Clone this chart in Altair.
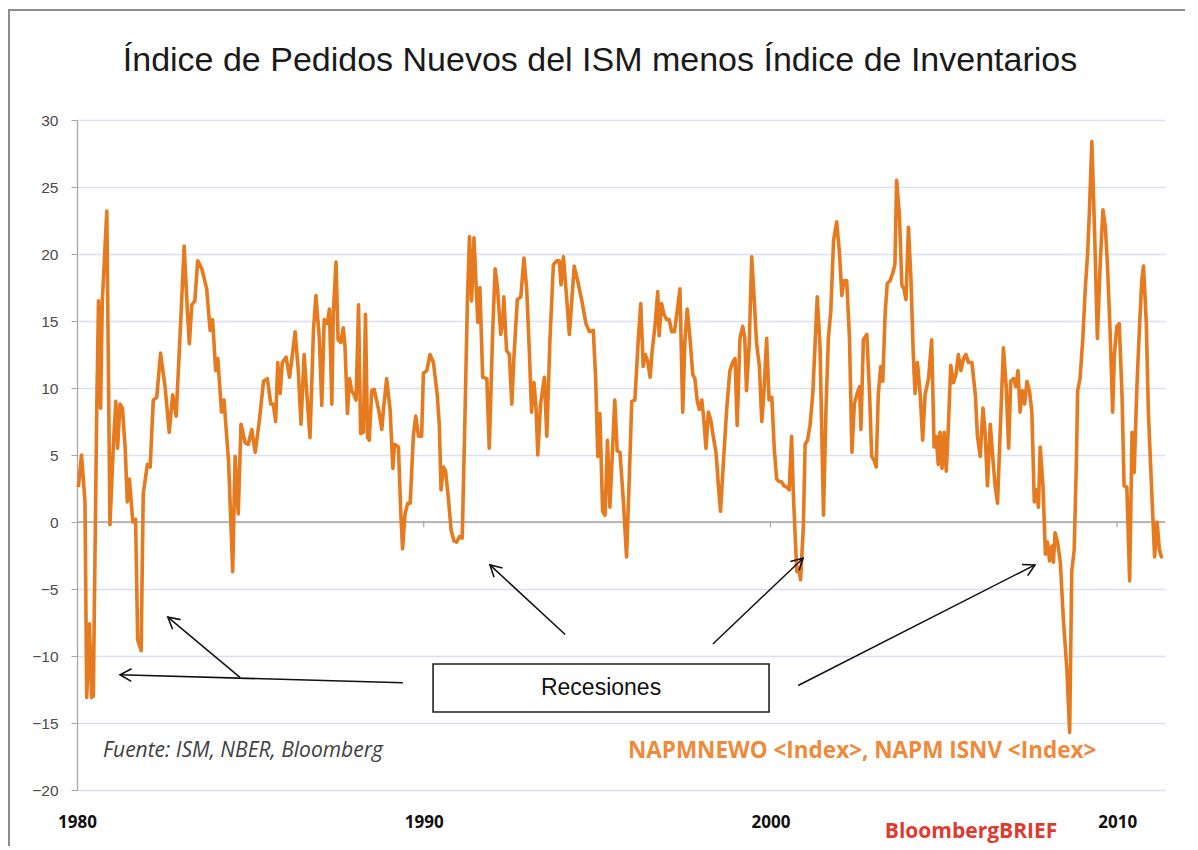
import math
import altair as alt
import pandas as pd

# ---------------- data ----------------
years = [
    1980.04, 1980.13, 1980.23, 1980.28, 1980.36, 1980.42, 1980.47, 1980.57, 1980.62, 1980.68,
    1980.73, 1980.86, 1980.95, 1981.05, 1981.12, 1981.17, 1981.24, 1981.31, 1981.39, 1981.45,
    1981.51, 1981.61, 1981.69, 1981.75, 1981.85, 1981.91, 1982.03, 1982.11, 1982.20, 1982.30,
    1982.41, 1982.54, 1982.66, 1982.76, 1982.86, 1982.99, 1983.09, 1983.18, 1983.24, 1983.31,
    1983.40, 1983.48, 1983.60, 1983.74, 1983.84, 1983.91, 1984.00, 1984.06, 1984.17, 1984.24,
    1984.37, 1984.49, 1984.56, 1984.65, 1984.73, 1984.85, 1984.94, 1985.04, 1985.14, 1985.26,
    1985.38, 1985.49, 1985.59, 1985.66, 1985.73, 1985.79, 1985.86, 1985.92, 1986.03, 1986.13,
    1986.19, 1986.29, 1986.38, 1986.46, 1986.55, 1986.63, 1986.72, 1986.82, 1986.89, 1986.99,
    1987.06, 1987.13, 1987.22, 1987.28, 1987.35, 1987.39, 1987.47, 1987.53, 1987.61, 1987.68,
    1987.73, 1987.80, 1987.86, 1987.92, 1987.99, 1988.05, 1988.12, 1988.18, 1988.26, 1988.32,
    1988.38, 1988.43, 1988.50, 1988.57, 1988.64, 1988.72, 1988.79, 1988.84, 1988.93, 1989.03,
    1989.11, 1989.16, 1989.27, 1989.34, 1989.39, 1989.46, 1989.54, 1989.61, 1989.70, 1989.77,
    1989.85, 1989.94, 1989.99, 1990.09, 1990.18, 1990.28, 1990.39, 1990.45, 1990.50, 1990.57,
    1990.63, 1990.71, 1990.79, 1990.87, 1990.95, 1991.03, 1991.11, 1991.19, 1991.26, 1991.32,
    1991.38, 1991.45, 1991.51, 1991.56, 1991.62, 1991.70, 1991.82, 1991.89, 1991.99, 1992.06,
    1992.13, 1992.22, 1992.28, 1992.31, 1992.39, 1992.47, 1992.54, 1992.60, 1992.70, 1992.80,
    1992.89, 1992.97, 1993.05, 1993.11, 1993.18, 1993.24, 1993.29, 1993.37, 1993.48, 1993.55,
    1993.64, 1993.74, 1993.84, 1993.91, 1993.96, 1994.03, 1994.12, 1994.20, 1994.27, 1994.34,
    1994.44, 1994.56, 1994.68, 1994.78, 1994.89, 1994.96, 1995.02, 1995.08, 1995.16, 1995.23,
    1995.30, 1995.37, 1995.51, 1995.58, 1995.66, 1995.76, 1995.85, 1995.93, 1996.00, 1996.09,
    1996.19, 1996.26, 1996.33, 1996.39, 1996.46, 1996.53, 1996.59, 1996.67, 1996.75, 1996.79,
    1996.86, 1996.93, 1997.01, 1997.08, 1997.15, 1997.23, 1997.30, 1997.39, 1997.47, 1997.53,
    1997.60, 1997.68, 1997.76, 1997.82, 1997.89, 1997.95, 1998.02, 1998.08, 1998.14, 1998.21,
    1998.28, 1998.35, 1998.43, 1998.50, 1998.56, 1998.64, 1998.74, 1998.83, 1998.91, 1998.98,
    1999.04, 1999.12, 1999.20, 1999.26, 1999.31, 1999.39, 1999.46, 1999.54, 1999.60, 1999.68,
    1999.75, 1999.81, 1999.89, 1999.96, 2000.04, 2000.11, 2000.18, 2000.26, 2000.32, 2000.39,
    2000.47, 2000.54, 2000.61, 2000.66, 2000.76, 2000.81, 2000.87, 2000.95, 2001.00, 2001.07,
    2001.14, 2001.22, 2001.29, 2001.35, 2001.43, 2001.53, 2001.60, 2001.67, 2001.74, 2001.82,
    2001.91, 2001.99, 2002.06, 2002.12, 2002.20, 2002.28, 2002.35, 2002.42, 2002.49, 2002.57,
    2002.61, 2002.68, 2002.78, 2002.86, 2002.92, 2002.99, 2003.05, 2003.11, 2003.18, 2003.24,
    2003.31, 2003.37, 2003.45, 2003.53, 2003.59, 2003.64, 2003.72, 2003.79, 2003.85, 2003.91,
    2003.98, 2004.05, 2004.12, 2004.17, 2004.24, 2004.32, 2004.39, 2004.46, 2004.56, 2004.65,
    2004.72, 2004.78, 2004.84, 2004.89, 2004.95, 2005.01, 2005.07, 2005.13, 2005.20, 2005.28,
    2005.35, 2005.42, 2005.49, 2005.57, 2005.64, 2005.71, 2005.81, 2005.91, 2005.97, 2006.05,
    2006.13, 2006.19, 2006.26, 2006.34, 2006.42, 2006.48, 2006.55, 2006.63, 2006.72, 2006.80,
    2006.87, 2006.93, 2007.01, 2007.08, 2007.14, 2007.20, 2007.27, 2007.33, 2007.40, 2007.47,
    2007.54, 2007.61, 2007.67, 2007.73, 2007.78, 2007.86, 2007.93, 2007.99, 2008.05, 2008.12,
    2008.16, 2008.21, 2008.28, 2008.36, 2008.45, 2008.55, 2008.63, 2008.69, 2008.76, 2008.82,
    2008.86, 2008.93, 2009.01, 2009.08, 2009.15, 2009.20, 2009.27, 2009.35, 2009.43, 2009.51,
    2009.59, 2009.66, 2009.72, 2009.80, 2009.87, 2009.92, 2009.99, 2010.06, 2010.14, 2010.20,
    2010.28, 2010.36, 2010.43, 2010.49, 2010.57, 2010.65, 2010.71, 2010.76, 2010.84, 2010.90,
    2011.00, 2011.08, 2011.15, 2011.22, 2011.29,
]
values = [
    2.6, 5.0, 1.5, -13.1, -7.6, -13.1, -13.0, 8.5, 16.5, 8.5,
    16.5, 23.2, -0.2, 5.8, 9.0, 5.5, 8.8, 8.5, 5.5, 1.5,
    3.2, 0.0, 0.2, -8.8, -9.6, 2.1, 4.3, 4.1, 9.1, 9.3,
    12.6, 10.1, 6.7, 9.5, 7.9, 14.9, 20.6, 15.9, 13.3, 16.2,
    16.5, 19.5, 18.9, 17.4, 14.3, 15.1, 11.3, 12.2, 8.2, 9.1,
    4.6, -3.7, 4.9, 0.6, 7.3, 5.9, 5.8, 6.9, 5.2, 7.6,
    10.5, 10.7, 8.8, 8.8, 7.5, 11.9, 9.6, 11.9, 12.3, 10.8,
    12.0, 14.2, 11.4, 7.3, 12.5, 9.5, 6.3, 14.3, 16.9, 13.7,
    8.7, 15.1, 14.8, 15.9, 8.8, 15.4, 19.4, 13.6, 13.4, 14.5,
    13.1, 8.1, 10.7, 9.8, 9.5, 9.1, 16.2, 6.6, 6.7, 15.5,
    6.3, 6.1, 9.8, 9.9, 9.1, 8.1, 6.9, 8.4, 10.7, 8.4,
    4.0, 5.8, 5.6, 0.6, -2.0, 0.6, 1.4, 1.4, 6.4, 7.9,
    6.4, 6.4, 11.1, 11.3, 12.5, 11.9, 9.5, 7.2, 2.4, 4.1,
    3.8, 1.8, -0.6, -1.4, -1.5, -1.1, -1.2, 7.9, 16.5, 21.3,
    16.5, 21.2, 17.7, 14.9, 17.5, 10.8, 10.7, 5.5, 14.3, 18.9,
    17.4, 14.0, 14.9, 16.8, 12.8, 12.5, 8.8, 12.2, 16.6, 16.8,
    19.7, 17.4, 12.5, 8.2, 10.4, 8.5, 5.0, 8.8, 10.8, 6.4,
    13.6, 19.2, 19.5, 19.5, 17.7, 19.8, 16.8, 14.0, 16.5, 19.1,
    18.0, 16.5, 14.8, 14.2, 14.3, 10.7, 4.9, 8.1, 0.8, 0.5,
    6.1, 1.1, 9.1, 5.3, 5.2, 1.5, -2.6, 3.4, 9.0, 9.1,
    13.7, 16.3, 11.6, 12.5, 12.0, 10.8, 12.8, 14.6, 17.2, 13.9,
    16.3, 15.5, 15.1, 15.1, 14.2, 14.2, 15.5, 17.4, 8.2, 13.4,
    15.9, 13.7, 11.0, 10.7, 9.0, 8.4, 9.1, 7.6, 5.5, 8.2,
    7.6, 6.4, 5.2, 2.7, 0.8, 4.3, 8.5, 11.3, 11.9, 12.2,
    7.2, 13.7, 14.6, 13.7, 9.8, 13.4, 19.8, 16.2, 13.3, 11.7,
    7.5, 9.5, 13.7, 9.1, 9.3, 5.5, 3.2, 3.0, 3.0, 2.7,
    2.6, 2.4, 6.4, 2.1, -3.7, -3.4, -4.3, -0.3, 5.8, 6.1,
    7.2, 9.5, 13.4, 16.8, 13.1, 0.5, 8.2, 13.7, 15.7, 21.0,
    22.4, 20.1, 16.9, 18.0, 18.0, 13.7, 5.2, 8.8, 9.5, 10.1,
    6.9, 13.6, 14.0, 9.5, 4.9, 4.6, 4.1, 9.5, 11.6, 10.5,
    15.7, 17.8, 18.0, 18.6, 19.2, 25.5, 22.9, 17.7, 17.4, 16.6,
    22.0, 18.3, 12.5, 9.6, 11.9, 9.5, 6.1, 9.5, 10.7, 13.6,
    5.6, 6.4, 4.3, 6.7, 4.0, 6.7, 3.8, 7.0, 11.7, 10.4,
    11.0, 12.5, 11.3, 12.2, 12.5, 11.9, 11.9, 9.5, 6.4, 4.9,
    8.5, 6.7, 2.7, 7.3, 4.6, 2.7, 1.4, 7.0, 13.0, 10.1,
    5.5, 10.5, 10.7, 10.1, 11.3, 8.2, 9.8, 8.8, 10.5, 9.8,
    8.2, 1.5, 2.4, 1.1, 5.6, 2.7, -2.4, -1.5, -2.9, -1.8,
    -3.0, -0.8, -1.5, -3.0, -7.3, -11.0, -15.7, -3.7, -2.1, 4.0,
    9.8, 10.7, 13.7, 17.4, 20.1, 23.2, 28.4, 21.6, 13.7, 19.2,
    23.3, 22.0, 19.2, 14.0, 8.2, 12.5, 14.6, 14.8, 9.5, 2.7,
    2.6, -4.4, 6.7, 3.7, 10.1, 14.9, 18.0, 19.1, 14.9, 8.2,
    2.1, -2.6, 0.0, -2.1, -2.7,
]

tick_years = [1980, 1990, 2000, 2010]
y_ticks = [-20, -15, -10, -5, 0, 5, 10, 15, 20, 25, 30]

title_text = "Índice de Pedidos Nuevos del ISM menos Índice de Inventarios"
box_label = "Recesiones"
source_text = "Fuente:  ISM, NBER, Bloomberg"
series_text = "NAPMNEWO <Index>, NAPM ISNV <Index>"
brand_text = "BloombergBRIEF"

# annotation box (data coordinates)
box_x = [1990.27]
box_x2 = [1999.96]
box_y = [-10.6]
box_y2 = [-14.18]

# arrows: tail -> head (data coordinates)
arrow_tail_x = [1989.40, 1984.70, 1994.08, 1998.34, 2000.80]
arrow_tail_y = [-12.0, -11.6, -8.4, -9.1, -12.2]
arrow_head_x = [1981.24, 1982.62, 1991.91, 2000.94, 2007.63]
arrow_head_y = [-11.4, -7.1, -3.2, -2.7, -3.2]

# ---------------- layout ----------------
W, H = 1088, 670
X0, X1 = 1980.0, 2011.38
Y0, Y1 = -20.0, 30.0

xs = alt.Scale(domain=[X0, X1], nice=False, zero=False)
ys = alt.Scale(domain=[Y0, Y1], nice=False, zero=False)

ORANGE = "#E57A1F"

# identical axis definitions are given to every positional layer so they merge
X_AX = alt.Axis(values=tick_years, format="d", title=None, grid=False, domain=False,
                ticks=False, tickSize=0, labelPadding=24, labelFlush=False,
                labelFont="Open Sans", labelFontWeight="bold", labelFontSize=17,
                labelColor="#111111")
Y_AX = alt.Axis(values=y_ticks, title=None, grid=True, gridColor="#DCDFF1", gridWidth=1.3,
                domain=True, domainColor="#A6A6A6", domainWidth=1.3, ticks=True,
                tickColor="#A6A6A6", tickSize=6, labelPadding=13,
                labelFont="Liberation Sans", labelFontSize=15.5, labelColor="#4a4a4a")


def X(field):
    return alt.X(field, type="quantitative", scale=xs, axis=X_AX, title=None)


def Y(field):
    return alt.Y(field, type="quantitative", scale=ys, axis=Y_AX, title=None)


zero = alt.Chart(pd.DataFrame({"v": [0.0]})).mark_rule(color="#A6A6A6", strokeWidth=1.3).encode(
    y=Y("v")
)

dec = pd.DataFrame({"year": tick_years[1:], "v": [0.0] * 3, "v2": [-0.4] * 3})
dec_ticks = alt.Chart(dec).mark_rule(color="#A6A6A6", strokeWidth=1.2).encode(
    x=X("year"), y=Y("v"), y2="v2:Q",
)

df = pd.DataFrame({"year": years, "value": values})
line = alt.Chart(df).mark_line(color=ORANGE, strokeWidth=3.6, strokeJoin="round").encode(
    x=X("year"), y=Y("value"),
)

box_df = pd.DataFrame({"x": box_x, "x2": box_x2, "y": box_y, "y2": box_y2})
box = alt.Chart(box_df).mark_rect(fill="white", stroke="#222222", strokeWidth=1.6).encode(
    x=X("x"), x2="x2:Q", y=Y("y"), y2="y2:Q",
)
box_txt_df = pd.DataFrame({"x": [(box_x[0] + box_x2[0]) / 2], "y": [(box_y[0] + box_y2[0]) / 2],
                           "t": [box_label]})
box_txt = alt.Chart(box_txt_df).mark_text(font="Liberation Sans", fontSize=23, color="#111111",
                                          baseline="middle", align="center").encode(
    x=X("x"), y=Y("y"), text="t:N"
)

angles = []
for tx, ty, hx, hy in zip(arrow_tail_x, arrow_tail_y, arrow_head_x, arrow_head_y):
    dxp = (hx - tx) * W / (X1 - X0)
    dyp = -(hy - ty) * H / (Y1 - Y0)
    angles.append(math.degrees(math.atan2(dyp, dxp)) % 360)

arr_df = pd.DataFrame({"tx": arrow_tail_x, "ty": arrow_tail_y, "hx": arrow_head_x,
                       "hy": arrow_head_y, "ang": angles})
shafts = alt.Chart(arr_df).mark_rule(color="#111111", strokeWidth=1.5).encode(
    x=X("tx"), y=Y("ty"), x2="hx:Q", y2="hy:Q",
)
heads = alt.Chart(arr_df).mark_point(
    shape="M-1,-0.55L0,0L-1,0.55", filled=False, stroke="#111111", strokeWidth=1.6,
    size=520, opacity=1,
).encode(
    x=X("hx"), y=Y("hy"), angle=alt.Angle("ang:Q", scale=None),
)

txt_df = pd.DataFrame({
    "x": [1980.75, 1995.89, 2003.30],
    "y": [-17.1, -17.1, -23.1],
    "t": [source_text, series_text, brand_text],
})
src = alt.Chart(txt_df.iloc[[0]]).mark_text(font="Open Sans", fontStyle="italic", fontSize=21,
                                            color="#404040", align="left", baseline="middle").encode(
    x=X("x"), y=Y("y"), text="t:N")
ser = alt.Chart(txt_df.iloc[[1]]).mark_text(font="Open Sans", fontWeight="bold", fontSize=22.5,
                                            color="#EE8A3A", align="left", baseline="middle").encode(
    x=X("x"), y=Y("y"), text="t:N")
brand = alt.Chart(txt_df.iloc[[2]]).mark_text(font="Open Sans", fontWeight="bold", fontSize=21,
                                              color="#E03A2E", align="left", baseline="middle").encode(
    x=X("x"), y=Y("y"), text="t:N")

title = alt.Chart(pd.DataFrame({"t": [title_text]})).mark_text(
    font="Liberation Sans", fontSize=34, color="#1a1a1a", align="center", baseline="alphabetic"
).encode(x=alt.value(523), y=alt.value(-49), text="t:N")

frame = alt.Chart(pd.DataFrame({"a": [0]})).mark_rect(fill=None, stroke="#8C8C8C", strokeWidth=2).encode(
    x=alt.value(-68), x2=alt.value(1114), y=alt.value(-110), y2=alt.value(760)
)

chart = alt.layer(
    zero, dec_ticks, line, shafts, heads, box, box_txt, src, ser, brand, frame, title
).properties(
    width=W, height=H,
    autosize=alt.AutoSizeParams(type="none"),
    padding={"left": 69, "top": 112, "right": 20, "bottom": 56},
    background="white",
).configure_view(stroke=None)

chart.save("out.html", embed_options={"renderer": "svg", "actions": False})
